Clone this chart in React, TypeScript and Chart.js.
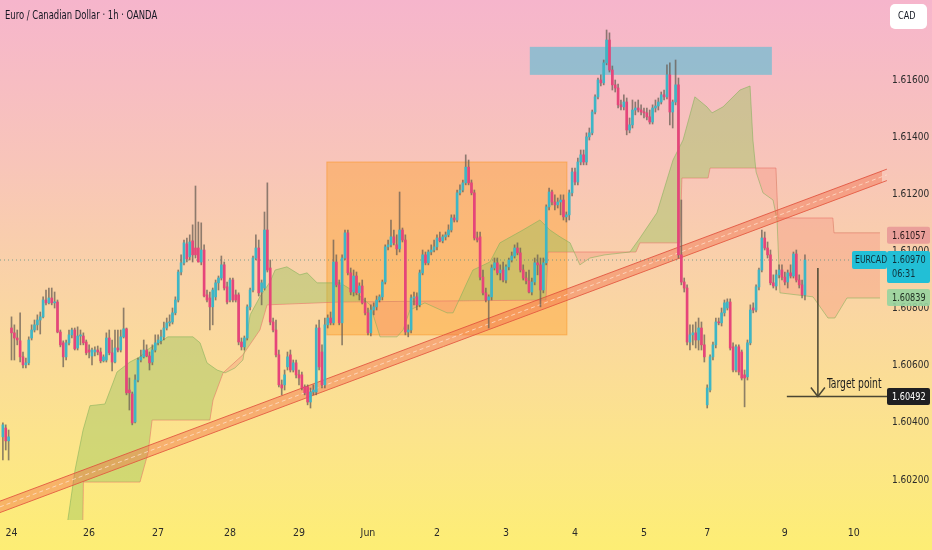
import { useEffect, useRef } from 'react';
import { Chart, registerables } from 'chart.js';

Chart.register(...registerables);

// ---------- candle data (EUR/CAD, 1h) ----------
const opens = [
  1.60351, 1.60382, 1.60337, 1.60732, 1.60715, 1.60697, 1.60687, 1.60631, 1.60603, 1.60610,
  1.60697, 1.60725, 1.60743, 1.60760, 1.60771, 1.60830, 1.60820, 1.60837, 1.60820, 1.60823,
  1.60718, 1.60680, 1.60631, 1.60680, 1.60708, 1.60725, 1.60662, 1.60704, 1.60704, 1.60683,
  1.60655, 1.60634, 1.60648, 1.60655, 1.60648, 1.60617, 1.60620, 1.60697, 1.60645, 1.60613,
  1.60662, 1.60655, 1.60701, 1.60729, 1.60515, 1.60501, 1.60403, 1.60550, 1.60620, 1.60631,
  1.60655, 1.60634, 1.60613, 1.60655, 1.60680, 1.60687, 1.60701, 1.60732, 1.60750, 1.60753,
  1.60785, 1.60830, 1.60928, 1.60960, 1.61026, 1.60981, 1.61037, 1.61012, 1.61012, 1.60963,
  1.61005, 1.60848, 1.60837, 1.60806, 1.60841, 1.60890, 1.60907, 1.60953, 1.60876, 1.60830,
  1.60900, 1.60848, 1.60848, 1.60683, 1.60666, 1.60697, 1.60806, 1.60865, 1.60977, 1.61012,
  1.60858, 1.60872, 1.61075, 1.60942, 1.60753, 1.60725, 1.60638, 1.60533, 1.60533, 1.60596,
  1.60638, 1.60585, 1.60610, 1.60568, 1.60568, 1.60526, 1.60526, 1.60473, 1.60508, 1.60508,
  1.60732, 1.60648, 1.60533, 1.60743, 1.60767, 1.60750, 1.60963, 1.60883, 1.60750, 1.60977,
  1.61065, 1.60925, 1.60858, 1.60914, 1.60855, 1.60879, 1.60820, 1.60785, 1.60715, 1.60795,
  1.60806, 1.60830, 1.60841, 1.60893, 1.61016, 1.61023, 1.61051, 1.61023, 1.61009, 1.61075,
  1.61040, 1.60718, 1.60725, 1.60837, 1.60841, 1.60813, 1.60925, 1.60988, 1.60960, 1.60998,
  1.61005, 1.61016, 1.61047, 1.61037, 1.61051, 1.61058, 1.61075, 1.61117, 1.61110, 1.61205,
  1.61215, 1.61240, 1.61295, 1.61240, 1.61205, 1.61047, 1.61051, 1.60910, 1.60855, 1.60830,
  1.60841, 1.60942, 1.60960, 1.60925, 1.60935, 1.60900, 1.60946, 1.60970, 1.60984, 1.61012,
  1.60995, 1.60935, 1.60907, 1.60897, 1.60858, 1.60893, 1.60960, 1.60953, 1.60865, 1.60960,
  1.61156, 1.61208, 1.61173, 1.61163, 1.61173, 1.61180, 1.61121, 1.61128, 1.61205, 1.61278,
  1.61243, 1.61313, 1.61338, 1.61313, 1.61401, 1.61415, 1.61488, 1.61541, 1.61600, 1.61590,
  1.61660, 1.61740, 1.61635, 1.61583, 1.61572, 1.61513, 1.61506, 1.61523, 1.61425, 1.61443,
  1.61495, 1.61502, 1.61495, 1.61488, 1.61485, 1.61471, 1.61453, 1.61502, 1.61509, 1.61523,
  1.61548, 1.61541, 1.61618, 1.61488, 1.61523, 1.61583, 1.60988, 1.60893, 1.60872, 1.60683,
  1.60708, 1.60715, 1.60690, 1.60732, 1.60673, 1.60463, 1.60515, 1.60631, 1.60673, 1.60753,
  1.60750, 1.60785, 1.60802, 1.60823, 1.60666, 1.60585, 1.60666, 1.60648, 1.60568, 1.60561,
  1.60680, 1.60802, 1.60795, 1.60876, 1.60935, 1.61047, 1.61012, 1.60988, 1.60890, 1.60879,
  1.60918, 1.60935, 1.60910, 1.60893, 1.60925, 1.60914, 1.60991, 1.60900, 1.60883, 1.60848,
];
const highs = [
  1.60400, 1.60393, 1.60375, 1.60771, 1.60743, 1.60725, 1.60785, 1.60648, 1.60627, 1.60701,
  1.60743, 1.60760, 1.60778, 1.60788, 1.60841, 1.60865, 1.60872, 1.60872, 1.60858, 1.60830,
  1.60725, 1.60687, 1.60690, 1.60725, 1.60732, 1.60732, 1.60736, 1.60725, 1.60715, 1.60690,
  1.60673, 1.60662, 1.60666, 1.60669, 1.60662, 1.60638, 1.60715, 1.60725, 1.60690, 1.60725,
  1.60725, 1.60725, 1.60802, 1.60732, 1.60557, 1.60508, 1.60568, 1.60627, 1.60655, 1.60690,
  1.60673, 1.60648, 1.60673, 1.60708, 1.60708, 1.60725, 1.60753, 1.60767, 1.60778, 1.60802,
  1.60841, 1.60935, 1.60988, 1.61040, 1.61047, 1.61058, 1.61093, 1.61229, 1.61103, 1.61100,
  1.61023, 1.60865, 1.60858, 1.60872, 1.60900, 1.60914, 1.60984, 1.60963, 1.60893, 1.60907,
  1.60907, 1.60865, 1.60855, 1.60697, 1.60704, 1.60813, 1.60872, 1.60984, 1.61058, 1.61040,
  1.60900, 1.61138, 1.61240, 1.60970, 1.60767, 1.60760, 1.60655, 1.60550, 1.60585, 1.60648,
  1.60655, 1.60620, 1.60620, 1.60585, 1.60578, 1.60533, 1.60533, 1.60522, 1.60533, 1.60743,
  1.60760, 1.60673, 1.60767, 1.60778, 1.60788, 1.61040, 1.60988, 1.60900, 1.60988, 1.61075,
  1.61075, 1.60942, 1.60935, 1.60928, 1.60890, 1.60900, 1.60837, 1.60802, 1.60813, 1.60820,
  1.60844, 1.60848, 1.60900, 1.61023, 1.61040, 1.61110, 1.61075, 1.61058, 1.61208, 1.61082,
  1.61058, 1.60743, 1.60848, 1.60858, 1.60855, 1.60935, 1.61005, 1.60998, 1.61005, 1.61023,
  1.61040, 1.61058, 1.61068, 1.61058, 1.61068, 1.61093, 1.61128, 1.61128, 1.61215, 1.61233,
  1.61250, 1.61338, 1.61320, 1.61250, 1.61215, 1.61068, 1.61068, 1.60935, 1.60872, 1.60848,
  1.60953, 1.60977, 1.60977, 1.60953, 1.60963, 1.60953, 1.60977, 1.60998, 1.61023, 1.61030,
  1.61012, 1.60953, 1.60928, 1.60935, 1.60907, 1.60977, 1.60988, 1.60977, 1.60977, 1.61163,
  1.61222, 1.61215, 1.61198, 1.61187, 1.61198, 1.61198, 1.61138, 1.61215, 1.61292, 1.61292,
  1.61327, 1.61355, 1.61355, 1.61415, 1.61432, 1.61495, 1.61548, 1.61607, 1.61618, 1.61670,
  1.61775, 1.61765, 1.61649, 1.61600, 1.61586, 1.61530, 1.61548, 1.61537, 1.61467, 1.61530,
  1.61523, 1.61530, 1.61513, 1.61502, 1.61502, 1.61495, 1.61513, 1.61530, 1.61537, 1.61558,
  1.61565, 1.61653, 1.61660, 1.61530, 1.61670, 1.61607, 1.61180, 1.60907, 1.60883, 1.60743,
  1.60743, 1.60753, 1.60767, 1.60753, 1.60708, 1.60533, 1.60638, 1.60683, 1.60767, 1.60767,
  1.60802, 1.60830, 1.60834, 1.60834, 1.60680, 1.60673, 1.60673, 1.60655, 1.60585, 1.60690,
  1.60813, 1.60820, 1.60883, 1.60942, 1.61075, 1.61068, 1.61033, 1.61005, 1.60918, 1.60935,
  1.60953, 1.60953, 1.60928, 1.60935, 1.60953, 1.60998, 1.61005, 1.60918, 1.60900, 1.60988,
];
const lows = [
  1.60270, 1.60305, 1.60270, 1.60620, 1.60620, 1.60673, 1.60613, 1.60592, 1.60592, 1.60603,
  1.60690, 1.60718, 1.60725, 1.60711, 1.60767, 1.60813, 1.60816, 1.60813, 1.60802, 1.60715,
  1.60666, 1.60596, 1.60620, 1.60673, 1.60697, 1.60655, 1.60655, 1.60673, 1.60673, 1.60638,
  1.60627, 1.60603, 1.60634, 1.60638, 1.60610, 1.60613, 1.60613, 1.60638, 1.60582, 1.60610,
  1.60648, 1.60648, 1.60697, 1.60498, 1.60445, 1.60393, 1.60400, 1.60543, 1.60613, 1.60627,
  1.60631, 1.60585, 1.60603, 1.60648, 1.60673, 1.60676, 1.60690, 1.60725, 1.60739, 1.60746,
  1.60778, 1.60823, 1.60918, 1.60953, 1.60963, 1.60970, 1.60963, 1.60977, 1.60963, 1.60953,
  1.60841, 1.60823, 1.60725, 1.60743, 1.60830, 1.60865, 1.60900, 1.60865, 1.60816, 1.60823,
  1.60823, 1.60823, 1.60673, 1.60655, 1.60655, 1.60690, 1.60795, 1.60858, 1.60970, 1.60844,
  1.60813, 1.60865, 1.60928, 1.60743, 1.60718, 1.60631, 1.60526, 1.60498, 1.60515, 1.60585,
  1.60578, 1.60578, 1.60557, 1.60533, 1.60515, 1.60498, 1.60463, 1.60452, 1.60498, 1.60498,
  1.60585, 1.60522, 1.60522, 1.60732, 1.60743, 1.60743, 1.60876, 1.60743, 1.60673, 1.60970,
  1.60918, 1.60848, 1.60844, 1.60848, 1.60830, 1.60816, 1.60778, 1.60708, 1.60704, 1.60778,
  1.60795, 1.60823, 1.60830, 1.60886, 1.61005, 1.61016, 1.61023, 1.60988, 1.60998, 1.61033,
  1.60708, 1.60701, 1.60715, 1.60813, 1.60795, 1.60806, 1.60918, 1.60953, 1.60953, 1.60988,
  1.60998, 1.61005, 1.61033, 1.61030, 1.61040, 1.61051, 1.61068, 1.61103, 1.61103, 1.61198,
  1.61208, 1.61233, 1.61233, 1.61198, 1.61040, 1.61033, 1.60900, 1.60848, 1.60823, 1.60732,
  1.60830, 1.60935, 1.60918, 1.60900, 1.60893, 1.60890, 1.60935, 1.60963, 1.60977, 1.60988,
  1.60928, 1.60900, 1.60886, 1.60855, 1.60848, 1.60883, 1.60918, 1.60806, 1.60855, 1.60953,
  1.61145, 1.61163, 1.61145, 1.61152, 1.61128, 1.61110, 1.61103, 1.61110, 1.61194, 1.61233,
  1.61233, 1.61303, 1.61303, 1.61303, 1.61390, 1.61408, 1.61481, 1.61534, 1.61579, 1.61583,
  1.61653, 1.61628, 1.61565, 1.61558, 1.61502, 1.61495, 1.61495, 1.61408, 1.61415, 1.61432,
  1.61478, 1.61488, 1.61478, 1.61467, 1.61460, 1.61446, 1.61446, 1.61488, 1.61495, 1.61516,
  1.61530, 1.61534, 1.61443, 1.61432, 1.61513, 1.60977, 1.60883, 1.60858, 1.60673, 1.60655,
  1.60673, 1.60662, 1.60655, 1.60655, 1.60613, 1.60452, 1.60508, 1.60620, 1.60662, 1.60743,
  1.60739, 1.60774, 1.60795, 1.60655, 1.60578, 1.60578, 1.60568, 1.60550, 1.60456, 1.60550,
  1.60673, 1.60785, 1.60788, 1.60865, 1.60928, 1.61005, 1.60977, 1.60883, 1.60872, 1.60865,
  1.60907, 1.60900, 1.60883, 1.60872, 1.60907, 1.60907, 1.60893, 1.60872, 1.60837, 1.60830,
];
const closes = [
  1.60393, 1.60337, 1.60351, 1.60715, 1.60697, 1.60690, 1.60631, 1.60603, 1.60610, 1.60690,
  1.60725, 1.60743, 1.60760, 1.60771, 1.60830, 1.60820, 1.60837, 1.60820, 1.60823, 1.60718,
  1.60673, 1.60631, 1.60680, 1.60708, 1.60725, 1.60659, 1.60704, 1.60708, 1.60680, 1.60645,
  1.60648, 1.60655, 1.60655, 1.60648, 1.60617, 1.60631, 1.60697, 1.60645, 1.60613, 1.60662,
  1.60655, 1.60701, 1.60729, 1.60505, 1.60505, 1.60400, 1.60550, 1.60620, 1.60631, 1.60655,
  1.60634, 1.60610, 1.60655, 1.60680, 1.60690, 1.60701, 1.60732, 1.60750, 1.60753, 1.60785,
  1.60830, 1.60928, 1.60960, 1.61030, 1.60974, 1.61033, 1.60988, 1.60988, 1.60963, 1.61005,
  1.60844, 1.60830, 1.60806, 1.60865, 1.60890, 1.60907, 1.60953, 1.60872, 1.60823, 1.60900,
  1.60830, 1.60830, 1.60683, 1.60666, 1.60697, 1.60806, 1.60865, 1.60977, 1.61012, 1.60855,
  1.60890, 1.61075, 1.60935, 1.60753, 1.60725, 1.60638, 1.60533, 1.60522, 1.60568, 1.60631,
  1.60585, 1.60610, 1.60568, 1.60557, 1.60522, 1.60505, 1.60473, 1.60508, 1.60515, 1.60732,
  1.60596, 1.60533, 1.60743, 1.60767, 1.60750, 1.60963, 1.60883, 1.60750, 1.60977, 1.61065,
  1.60925, 1.60858, 1.60914, 1.60855, 1.60879, 1.60820, 1.60785, 1.60715, 1.60795, 1.60806,
  1.60830, 1.60841, 1.60893, 1.61016, 1.61023, 1.61051, 1.61030, 1.61009, 1.61075, 1.61040,
  1.60718, 1.60725, 1.60837, 1.60841, 1.60813, 1.60925, 1.60988, 1.60960, 1.60998, 1.61005,
  1.61016, 1.61047, 1.61037, 1.61051, 1.61058, 1.61075, 1.61117, 1.61110, 1.61205, 1.61215,
  1.61240, 1.61295, 1.61240, 1.61205, 1.61047, 1.61040, 1.60910, 1.60855, 1.60830, 1.60841,
  1.60942, 1.60960, 1.60925, 1.60935, 1.60900, 1.60946, 1.60970, 1.60984, 1.61012, 1.60995,
  1.60935, 1.60907, 1.60897, 1.60858, 1.60893, 1.60960, 1.60953, 1.60865, 1.60960, 1.61156,
  1.61208, 1.61173, 1.61163, 1.61173, 1.61180, 1.61121, 1.61128, 1.61205, 1.61278, 1.61243,
  1.61313, 1.61338, 1.61313, 1.61401, 1.61415, 1.61488, 1.61541, 1.61600, 1.61590, 1.61660,
  1.61740, 1.61635, 1.61583, 1.61572, 1.61513, 1.61506, 1.61523, 1.61425, 1.61443, 1.61495,
  1.61502, 1.61495, 1.61488, 1.61485, 1.61471, 1.61453, 1.61502, 1.61509, 1.61523, 1.61548,
  1.61541, 1.61618, 1.61488, 1.61523, 1.61583, 1.60988, 1.60893, 1.60872, 1.60683, 1.60708,
  1.60715, 1.60690, 1.60732, 1.60673, 1.60631, 1.60522, 1.60631, 1.60673, 1.60753, 1.60750,
  1.60785, 1.60820, 1.60823, 1.60662, 1.60585, 1.60666, 1.60578, 1.60557, 1.60557, 1.60680,
  1.60795, 1.60795, 1.60876, 1.60935, 1.61047, 1.61012, 1.60988, 1.60890, 1.60879, 1.60918,
  1.60935, 1.60910, 1.60893, 1.60925, 1.60914, 1.60991, 1.60900, 1.60883, 1.60848, 1.60970,
];

// ---------- axis ticks ----------
const dayTickIdx = [3, 30, 54, 79, 103, 127, 151, 175, 199, 223, 245, 272, 296];
const dayTickLabels = ['24', '26', '27', '28', '29', 'Jun', '2', '3', '4', '5', '7', '9', '10'];
const priceTicks = [1.602, 1.604, 1.606, 1.608, 1.61, 1.612, 1.614, 1.616];

// ---------- Ichimoku cloud (leading spans, shifted forward) ----------
const spanAIdx = [21.6, 25.1, 27.9, 30.3, 35.5, 38.3, 39.7, 44.2, 47.7, 50.1, 57.4, 66.1, 68.6, 71, 74.5, 77.3, 80.7, 83.5, 86, 89.4, 92.9, 94.7, 98.8, 103.3, 105.8, 109.3, 117.3, 122.5, 127.7, 131.2, 137.1, 139.2, 141.6, 146.8, 154.5, 156.6, 159, 161.4, 163.5, 169.4, 172.9, 180.9, 186.8, 190.3, 193.8, 197.3, 200.7, 204.2, 209.4, 218.1, 221.6, 227.5, 233.1, 236.6, 240.7, 244.9, 246.7, 250.5, 256.4, 259.9, 260.9, 262, 264.4, 267.9, 269.3, 270.3, 281.8, 287, 289.4, 293.6, 305.1];
const spanA = [1.5999, 1.60235, 1.60375, 1.6046, 1.60466, 1.6054, 1.60578, 1.60613, 1.60631, 1.60655, 1.60701, 1.60701, 1.6068, 1.6061, 1.60585, 1.60575, 1.60592, 1.6062, 1.60778, 1.60841, 1.60893, 1.60935, 1.60946, 1.60918, 1.60925, 1.6089, 1.6089, 1.60858, 1.60813, 1.60701, 1.60701, 1.60725, 1.60795, 1.6082, 1.60785, 1.60785, 1.60837, 1.6089, 1.60935, 1.60963, 1.6103, 1.61075, 1.6111, 1.61075, 1.61051, 1.6103, 1.60953, 1.60977, 1.60988, 1.60998, 1.61047, 1.61135, 1.6132, 1.6139, 1.61541, 1.61506, 1.61485, 1.61506, 1.61565, 1.61579, 1.6139, 1.61278, 1.61205, 1.6118, 1.6111, 1.60855, 1.60841, 1.60767, 1.60767, 1.60837, 1.60837];
const spanBIdx = [21.6, 27.6, 28, 47.7, 50.5, 51.9, 72, 73.1, 76.6, 83.5, 89.4, 91.9, 117.3, 188.9, 189.6, 220.2, 221.6, 235.5, 236.2, 245.3, 246, 268.9, 269.6, 288.7, 289.1, 305.1];
const spanB = [1.5992, 1.5992, 1.60193, 1.60193, 1.60295, 1.6041, 1.6041, 1.6048, 1.60575, 1.60638, 1.60725, 1.60813, 1.60823, 1.6083, 1.60998, 1.60998, 1.6103, 1.6103, 1.61257, 1.61257, 1.61292, 1.61292, 1.61117, 1.61117, 1.61065, 1.61065];

// ---------- drawings ----------
const trendIdx = [-1, 307.5];
const trendMid = [1.60106, 1.61268];
const trendHalf = 0.0002;
const orangeBoxIdx = [112.7, 196.2];
const orangeBoxPrice = [1.60708, 1.61313];
const blueBoxIdx = [183.3, 267.5];
const blueBoxPrice = [1.61618, 1.61716];
const lastPrice = 1.6097;
const lastLineIdx = [-1, 294.6];
const targetIdx = 283.5;
const targetFrom = 1.60942;
const targetPrice = 1.60492;
const targetLevelIdx = [272.7, 307.7];
const cloudTopLabel = 1.61057;
const cloudBottomLabel = 1.60839;
const symbol = 'EURCAD';
const countdown = '06:31';
const title = 'Euro / Canadian Dollar · 1h · OANDA';
const currency = 'CAD';
const targetText = 'Target point';

// ---------- styles ----------
const FONT = "'DejaVu Sans Condensed', 'DejaVu Sans', sans-serif";
const UP = '#3eb6c6';
const DOWN = '#e6457a';
const WICK = 'rgba(105,95,85,0.75)';
const GREEN_CLOUD = 'rgba(150,195,90,0.42)';
const RED_CLOUD = 'rgba(245,130,110,0.28)';
const TREND_FILL = 'rgba(240,105,70,0.42)';
const TREND_EDGE = 'rgba(225,80,60,0.85)';
const ARROW = '#4a4633';
const TEXT = '#2a2a2a';

function box(ctx: CanvasRenderingContext2D, x: number, y: number, w: number, h: number, r: number, fill: string) {
  ctx.beginPath();
  if ((ctx as any).roundRect) (ctx as any).roundRect(x, y, w, h, r);
  else ctx.rect(x, y, w, h);
  ctx.fillStyle = fill;
  ctx.fill();
}

// condensed text (the reference UI font is narrow)
function text(ctx: CanvasRenderingContext2D, s: string, x: number, y: number, sx: number) {
  ctx.save();
  ctx.translate(x, y);
  ctx.scale(sx, 1);
  ctx.fillText(s, 0, 0);
  ctx.restore();
}

const overlay = {
  id: 'overlay',
  beforeDraw(chart: any) {
    const { ctx, width, height } = chart;
    const g = ctx.createLinearGradient(0, 0, 0, height);
    g.addColorStop(0, '#f6b5cc');
    g.addColorStop(0.3, '#f8c5b9');
    g.addColorStop(0.55, '#fad5a3');
    g.addColorStop(0.8, '#fce48b');
    g.addColorStop(1, '#fdee74');
    ctx.save();
    ctx.fillStyle = g;
    ctx.fillRect(0, 0, width, height);
    ctx.restore();
  },
  beforeDatasetsDraw(chart: any) {
    const { ctx, scales: { x, y }, chartArea } = chart;
    ctx.save();
    ctx.beginPath();
    ctx.rect(chartArea.left, chartArea.top, chartArea.right - chartArea.left, chartArea.bottom - chartArea.top);
    ctx.clip();
    let x0 = x.getPixelForValue(orangeBoxIdx[0]);
    let x1 = x.getPixelForValue(orangeBoxIdx[1]);
    let y0 = y.getPixelForValue(orangeBoxPrice[1]);
    let y1 = y.getPixelForValue(orangeBoxPrice[0]);
    ctx.fillStyle = 'rgba(255,150,20,0.36)';
    ctx.fillRect(x0, y0, x1 - x0, y1 - y0);
    ctx.strokeStyle = 'rgba(250,150,40,0.55)';
    ctx.lineWidth = 1;
    ctx.strokeRect(x0, y0, x1 - x0, y1 - y0);
    x0 = x.getPixelForValue(blueBoxIdx[0]);
    x1 = x.getPixelForValue(blueBoxIdx[1]);
    y0 = y.getPixelForValue(blueBoxPrice[1]);
    y1 = y.getPixelForValue(blueBoxPrice[0]);
    ctx.fillStyle = 'rgba(70,190,215,0.55)';
    ctx.fillRect(x0, y0, x1 - x0, y1 - y0);
    ctx.restore();
  },
  afterDraw(chart: any) {
    const { ctx, scales: { x, y }, chartArea } = chart;
    const right = chartArea.right;
    ctx.save();
    const tx = x.getPixelForValue(targetIdx);
    const ty = y.getPixelForValue(targetPrice);
    ctx.strokeStyle = ARROW;
    ctx.lineWidth = 1.5;
    ctx.beginPath();
    ctx.moveTo(tx - 7, ty - 9);
    ctx.lineTo(tx, ty);
    ctx.lineTo(tx + 7, ty - 9);
    ctx.stroke();
    ctx.fillStyle = '#1c1c1c';
    ctx.font = `14px ${FONT}`;
    ctx.textAlign = 'left';
    ctx.textBaseline = 'alphabetic';
    text(ctx, targetText, tx + 9, ty - 9, 0.73);

    ctx.textBaseline = 'middle';
    ctx.font = `11px ${FONT}`;
    const tag = (price: number, bg: string, fg: string) => {
      const cy = y.getPixelForValue(price);
      box(ctx, right + 5, cy - 8.5, 43, 17, 2, bg);
      ctx.fillStyle = fg;
      text(ctx, price.toFixed(5), right + 10, cy + 0.5, 0.82);
    };
    tag(cloudTopLabel, 'rgba(232,150,150,0.85)', '#2b1a1a');
    tag(cloudBottomLabel, 'rgba(150,212,160,0.9)', '#1d2b1f');
    tag(targetPrice, '#1f1f22', '#ffffff');

    const ly = y.getPixelForValue(lastPrice);
    box(ctx, right - 30, ly - 9, 35, 18, 2, '#22bfd6');
    box(ctx, right + 5, ly - 9, 43, 32, 2, '#22bfd6');
    ctx.fillStyle = '#10303a';
    text(ctx, symbol, right - 27, ly + 0.5, 0.78);
    text(ctx, lastPrice.toFixed(5), right + 10, ly + 0.5, 0.82);
    text(ctx, countdown, right + 10, ly + 14.5, 0.82);

    ctx.fillStyle = '#131722';
    ctx.font = `12.5px ${FONT}`;
    text(ctx, title, 5, 16, 0.75);

    box(ctx, 890, 4, 37, 25, 5, '#ffffff');
    ctx.fillStyle = '#131722';
    ctx.font = `11px ${FONT}`;
    text(ctx, currency, 898, 16.5, 0.82);
    ctx.restore();
  },
};

export default function App() {
  const ref = useRef<HTMLCanvasElement>(null);
  useEffect(() => {
    const bodyColors = closes.map((c, i) => (c >= opens[i] ? UP : DOWN));
    const bodies = closes.map((c, i) => ({ x: i, y: [Math.min(opens[i], c), Math.max(opens[i], c)] }));
    const wicks = lows.map((l, i) => ({ x: i, y: [l, highs[i]] }));
    const trendUpper = trendIdx.map((t, i) => ({ x: t, y: trendMid[i] + trendHalf }));
    const trendLower = trendIdx.map((t, i) => ({ x: t, y: trendMid[i] - trendHalf }));
    const trendCenter = trendIdx.map((t, i) => ({ x: t, y: trendMid[i] }));
    const line = (extra: any) => ({ type: 'line', pointRadius: 0, tension: 0, fill: false, ...extra });
    const overflow = { left: 0, top: 0, right: 8, bottom: 0 };

    const chart = new Chart(ref.current as HTMLCanvasElement, {
      type: 'bar',
      data: {
        datasets: [
          { type: 'bar', label: 'body', data: bodies, backgroundColor: bodyColors, barThickness: 2, grouped: false, minBarLength: 1, borderWidth: 0, order: 0 } as any,
          { type: 'bar', label: 'wick', data: wicks, backgroundColor: WICK, barThickness: 1, grouped: false, borderWidth: 0, order: 1 } as any,
          line({ label: 'target', data: [{ x: targetIdx, y: targetFrom }, { x: targetIdx, y: targetPrice }], borderColor: ARROW, borderWidth: 1.5, order: 2 }),
          line({ label: 'targetLevel', data: targetLevelIdx.map((t) => ({ x: t, y: targetPrice })), borderColor: ARROW, borderWidth: 1.5, order: 2, clip: overflow }),
          line({ label: 'last', data: lastLineIdx.map((t) => ({ x: t, y: lastPrice })), borderColor: 'rgba(80,140,130,0.75)', borderWidth: 1, borderDash: [1, 3], order: 3 }),
          line({ label: 'trendMid', data: trendCenter, borderColor: 'rgba(255,225,205,0.75)', borderWidth: 1, borderDash: [4, 3], order: 4, clip: overflow }),
          line({ label: 'trendUp', data: trendUpper, borderColor: TREND_EDGE, borderWidth: 1, fill: { target: 7, above: TREND_FILL, below: TREND_FILL }, order: 5, clip: overflow }),
          line({ label: 'trendLo', data: trendLower, borderColor: TREND_EDGE, borderWidth: 1, order: 5, clip: overflow }),
          line({ label: 'spanA', data: spanAIdx.map((t, i) => ({ x: t, y: spanA[i] })), borderColor: 'rgba(130,175,90,0.55)', borderWidth: 1, fill: { target: 9, above: GREEN_CLOUD, below: RED_CLOUD }, order: 7 }),
          line({ label: 'spanB', data: spanBIdx.map((t, i) => ({ x: t, y: spanB[i] })), borderColor: 'rgba(230,115,105,0.6)', borderWidth: 1, order: 7 }),
        ],
      },
      options: {
        animation: false,
        responsive: true,
        maintainAspectRatio: false,
        events: [],
        layout: { padding: 0 },
        plugins: { legend: { display: false }, tooltip: { enabled: false } },
        scales: {
          x: {
            type: 'linear',
            min: -1,
            max: 305.8,
            offset: false,
            grid: { display: false, drawTicks: false },
            border: { display: false },
            afterBuildTicks: (s: any) => { s.ticks = dayTickIdx.map((v) => ({ value: v })); },
            afterFit: (s: any) => { s.height = 30; s.paddingLeft = 0; s.paddingRight = 0; },
            ticks: {
              autoSkip: false,
              maxRotation: 0,
              padding: 7,
              color: TEXT,
              font: { size: 10.5, family: FONT },
              callback: (_v: any, i: number) => dayTickLabels[i],
            },
          },
          y: {
            type: 'linear',
            position: 'right',
            min: 1.6006,
            max: 1.6188,
            beginAtZero: false,
            grid: { display: false, drawTicks: false },
            border: { display: false },
            afterBuildTicks: (s: any) => { s.ticks = priceTicks.map((v) => ({ value: v })); },
            afterFit: (s: any) => { s.width = 50; s.paddingTop = 0; s.paddingBottom = 0; },
            ticks: {
              padding: 10,
              color: TEXT,
              font: { size: 10, family: FONT },
              callback: (v: any) => Number(v).toFixed(5),
            },
          },
        },
      } as any,
      plugins: [overlay as any],
    });
    return () => chart.destroy();
  }, []);

  return (
    <div style={{ position: 'fixed', left: 0, top: 0, width: 932, height: 550 }}>
      <canvas ref={ref} />
    </div>
  );
}
